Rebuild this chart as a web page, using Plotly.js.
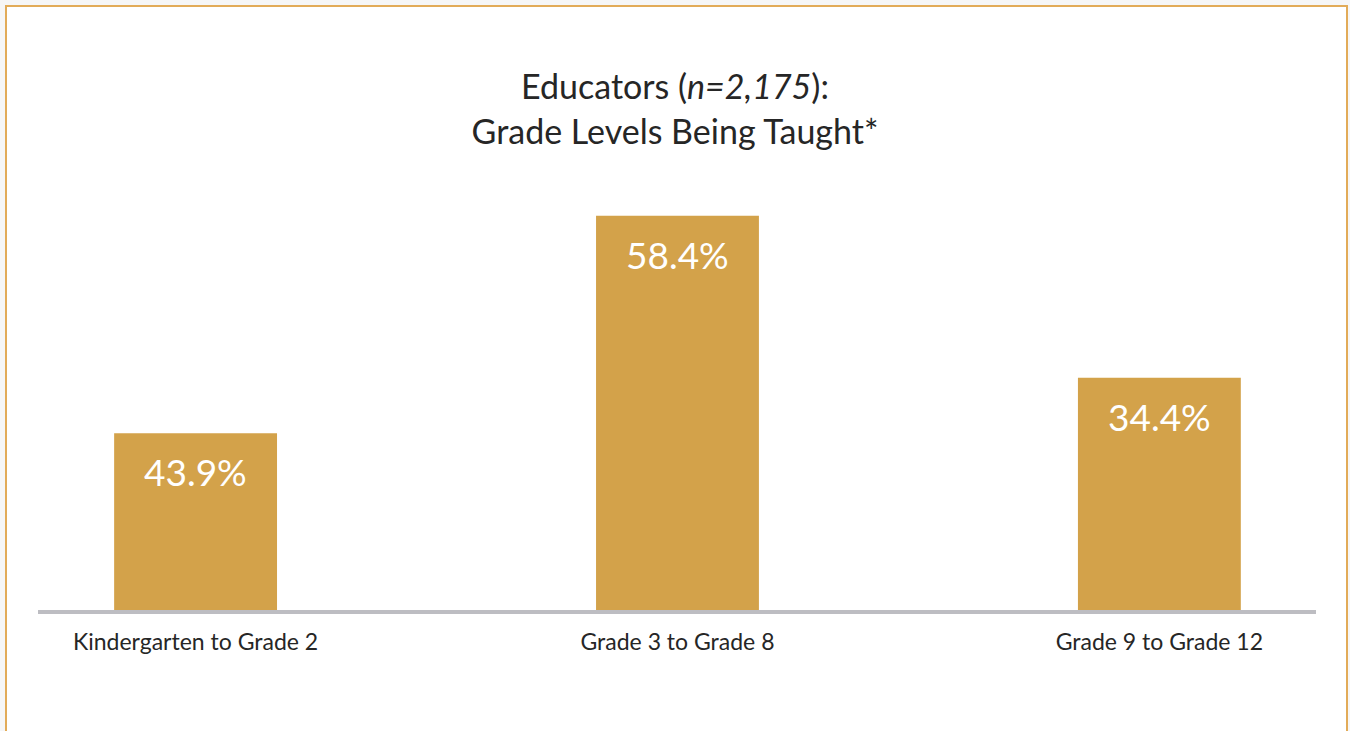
<!DOCTYPE html>
<html>
<head>
<meta charset="utf-8">
<script src="https://cdn.plot.ly/plotly-3.0.1.min.js"></script>
<style>
	body { margin: 0; background: #f6f6f6; overflow: hidden; }
	.frame {
		position: absolute; left: 5px; top: 5px;
		width: 1339px; height: 760px;
		background: #ffffff;
		border: 2px solid #e2ab58;
	}
	#chart { position: absolute; left: 0; top: 0; width: 1350px; height: 731px; }
</style>
</head>
<body>
<div class="frame"></div>
<div id="chart"></div>
<script>
(function () {

	'use strict';

	// grade bands
	const categories = [ 'Kindergarten to Grade 2', 'Grade 3 to Grade 8', 'Grade 9 to Grade 12' ];
	// bar heights as drawn in the picture (first bar is drawn shorter than its label says)
	const barHeights = [ 26.2, 58.4, 34.4 ];
	// printed labels
	const barLabels = [ '43.9%', '58.4%', '34.4%' ];

	const gold = '#d3a24a';
	const font = 'Lato, "Open Sans", sans-serif';

	const bars = {
		x: categories,
		y: barHeights,
		type: 'bar',
		width: 0.338,
		marker: { color: gold },
		hoverinfo: 'skip',
	};

	// value labels sit a little below each bar top
	const labels = categories.map(( cat, i ) => ({
		x: cat,
		y: barHeights[i],
		text: barLabels[i],
		showarrow: false,
		yanchor: 'top',
		yshift: -14,
		font: { family: font, size: 37, color: '#ffffff' },
	}));

	const layout = {
		width: 1350,
		height: 731,
		margin: { l: 38, r: 34, t: 180, b: 121 },
		paper_bgcolor: 'rgba(0,0,0,0)',
		plot_bgcolor: 'rgba(0,0,0,0)',
		showlegend: false,
		title: {
			text: 'Educators (<i>n=2,175</i>):<br>Grade Levels Being Taught*',
			font: { family: font, size: 34, color: '#262626' },
			x: 0.5,
			xanchor: 'center',
			y: 0.864,
			yanchor: 'top',
		},
		xaxis: {
			type: 'category',
			range: [ -0.327, 2.325 ],
			showline: true,
			linecolor: '#bdbdc2',
			linewidth: 4,
			ticks: '',
			ticklabelstandoff: 8,
			showgrid: false,
			zeroline: false,
			tickfont: { family: font, size: 23, color: '#262626' },
		},
		yaxis: {
			range: [ 0, 63.7 ],
			visible: false,
			showgrid: false,
			zeroline: false,
		},
		annotations: labels,
	};

	Plotly.newPlot( 'chart', [ bars ], layout, { displayModeBar: false, staticPlot: true } );

})();
</script>
</body>
</html>
